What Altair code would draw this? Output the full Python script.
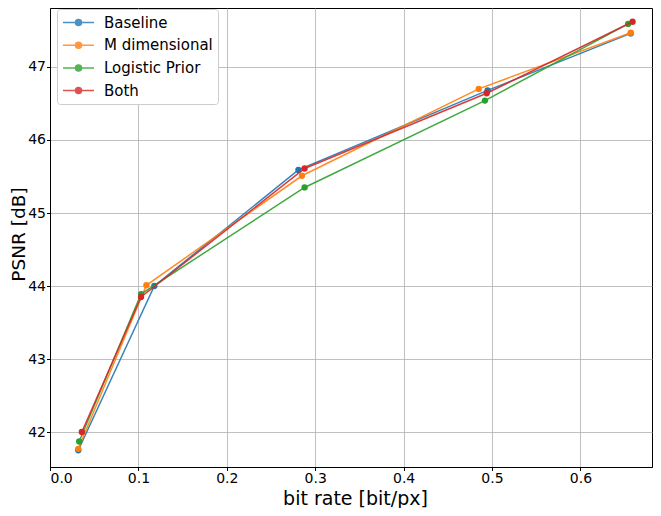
import altair as alt
import pandas as pd

series_names = ["Baseline", "M dimensional", "Logistic Prior", "Both"]
colors = ["#1f77b4", "#ff7f0e", "#2ca02c", "#d62728"]

baseline_x = [0.032, 0.118, 0.281, 0.495, 0.657]
baseline_y = [41.75, 44.00, 45.59, 46.68, 47.46]
mdim_x = [0.032, 0.109, 0.285, 0.485, 0.657]
mdim_y = [41.77, 44.01, 45.51, 46.70, 47.47]
logistic_x = [0.033, 0.103, 0.288, 0.492, 0.654]
logistic_y = [41.87, 43.89, 45.35, 46.54, 47.59]
both_x = [0.036, 0.103, 0.288, 0.494, 0.659]
both_y = [42.00, 43.85, 45.61, 46.64, 47.62]

x_ticks = [0.0, 0.1, 0.2, 0.3, 0.4, 0.5, 0.6]
y_ticks = [42, 43, 44, 45, 46, 47]

xs = [baseline_x, mdim_x, logistic_x, both_x]
ys = [baseline_y, mdim_y, logistic_y, both_y]

rows = []
for i, (name, xv, yv) in enumerate(zip(series_names, xs, ys)):
    for j, (a, b) in enumerate(zip(xv, yv)):
        rows.append({"series": name, "order": i, "idx": j, "rate": a, "psnr": b})
df = pd.DataFrame(rows)

FONT = "DejaVu Sans"

x = alt.X("rate:Q", title="bit rate [bit/px]",
          scale=alt.Scale(domain=[0.0, 0.681], nice=False, zero=False),
          axis=alt.Axis(values=x_ticks, format=".1f", labelPadding=1,
                        titleY=37, titleX=305, titleBaseline="alphabetic",
                        titleAlign="center"))
y = alt.Y("psnr:Q", title="PSNR [dB]",
          scale=alt.Scale(domain=[41.521, 47.808], nice=False, zero=False),
          axis=alt.Axis(values=y_ticks, format="d", labelPadding=1,
                        titleX=-41, titleY=226, titleBaseline="top",
                        titleAlign="center", titleAngle=270, titleFontSize=18.5))
color = alt.Color("series:N", scale=alt.Scale(domain=series_names, range=colors),
                  legend=alt.Legend(
                      title=None, orient="none", legendX=7, legendY=1,
                      symbolType="M -2.07 0 L 2.07 0 M 0.4 0 A 0.4 0.4 0 1 1 -0.4 0 A 0.4 0.4 0 1 1 0.4 0",
                      symbolSize=225, symbolStrokeWidth=1.5, symbolOpacity=0.8,
                      symbolOffset=8,
                      labelFont=FONT, labelFontSize=15, labelColor="black",
                      labelOffset=17, rowPadding=5.7, padding=5,
                      fillColor="white", strokeColor="#cccccc", cornerRadius=3,
                  ))

base = alt.Chart(df).encode(x=x, y=y, color=color)

layers = []
for name in series_names:
    sub = base.transform_filter(alt.datum.series == name)
    layers.append(sub.mark_line(strokeWidth=1.5, opacity=0.9).encode(order=alt.Order("idx:Q")))
    layers.append(sub.mark_circle(size=40, opacity=1.0))

chart = alt.layer(*layers).properties(
    width=602, height=459,
    autosize=alt.AutoSizeParams(type="none"),
    padding={"left": 42, "top": 0, "right": 1, "bottom": 41},
).configure_view(
    stroke="black", strokeWidth=1
).configure_axis(
    labelFont=FONT, labelFontSize=14, labelColor="black",
    titleFont=FONT, titleFontSize=19, titleFontWeight="normal", titleColor="black",
    grid=True, gridColor="#b0b0b0", gridWidth=0.8,
    domainColor="black", tickColor="black", tickSize=3.5,
)

chart.save("out.html", embed_options={"renderer": "svg", "actions": False})
